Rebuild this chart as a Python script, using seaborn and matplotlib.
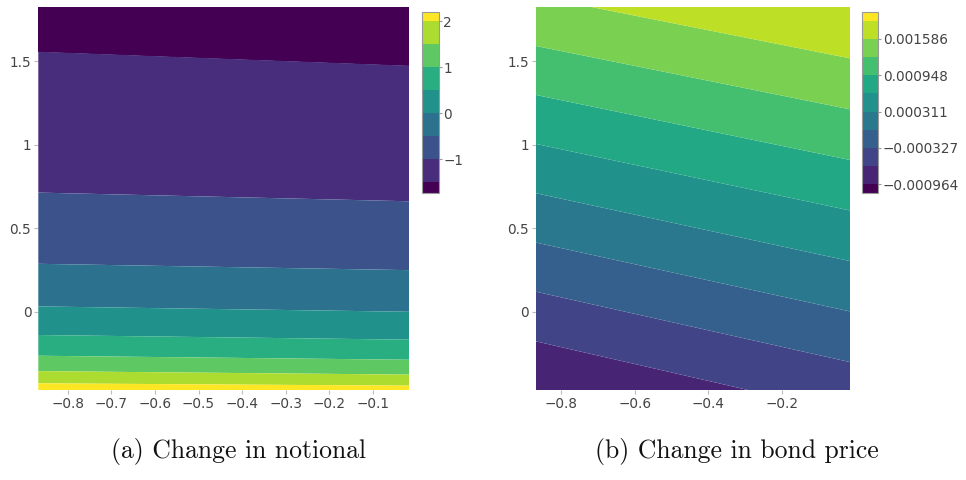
import numpy as np
import matplotlib
matplotlib.use("Agg")
import matplotlib.pyplot as plt
import seaborn as sns

# -------- data --------

# both panels share the same view
x_range = [-0.868, -0.016]
y_range = [-0.468, 1.825]

# (a) change in notional: contour levels and where each one
# crosses the left / right edge of the panel
notional_levels = [-1.5, -1.0, -0.5, 0.0, 0.5, 1.0, 1.5, 2.0]
notional_y_left = [1.556, 0.713, 0.287, 0.032, -0.139, -0.263, -0.355, -0.428]
notional_y_right = [1.472, 0.661, 0.249, 0.000, -0.167, -0.287, -0.376, -0.442]
notional_z_bottom = 2.2
notional_z_top = -1.73
notional_ticks = [-1, 0, 1, 2]
notional_tick_labels = ["\u22121", "0", "1", "2"]

# (b) change in bond price
price_levels = [-0.000964, -0.000645, -0.000327, -0.000008, 0.000311,
                0.000630, 0.000948, 0.001267, 0.001586, 0.001905]
# crossings of the visible levels (-0.000645 ... 0.001586)
price_cross_levels = [-0.000645, -0.000327, -0.000008, 0.000311,
                      0.000630, 0.000948, 0.001267, 0.001586]
price_y_left = [-0.177, 0.120, 0.414, 0.709, 1.004, 1.297, 1.590, 1.889]
price_y_right = [-0.608, -0.301, 0.002, 0.303, 0.606, 0.908, 1.211, 1.516]
price_z_bottom = -0.00112
price_z_top = 0.00206
price_ticks = [-0.000964, -0.000327, 0.000311, 0.000948, 0.001586]
price_tick_labels = ["\u22120.000964", "\u22120.000327", "0.000311",
                     "0.000948", "0.001586"]

notional_xticks = [-0.8, -0.7, -0.6, -0.5, -0.4, -0.3, -0.2, -0.1]
notional_xtick_labels = ["\u22120.8", "\u22120.7", "\u22120.6", "\u22120.5",
                         "\u22120.4", "\u22120.3", "\u22120.2", "\u22120.1"]
price_xticks = [-0.8, -0.6, -0.4, -0.2]
price_xtick_labels = ["\u22120.8", "\u22120.6", "\u22120.4", "\u22120.2"]
yticks = [0, 0.5, 1, 1.5]
ytick_labels = ["0", "0.5", "1", "1.5"]

captions = ["(a) Change in notional", "(b) Change in bond price"]


# -------- helpers --------

def edge_grid(levels, y_left, y_right, z_bottom, z_top):
    # one row per level crossing, padded far outside the view
    ys = np.column_stack([y_left, y_right])
    zs = np.asarray(levels, dtype=float)
    order = np.argsort(ys[:, 0])
    ys, zs = ys[order], zs[order]
    Y = np.vstack([[-5.0, -5.0], ys, [5.0, 5.0]])
    Z = np.r_[z_bottom, zs, z_top]
    Z = np.repeat(Z[:, None], 2, axis=1)
    X = np.tile(x_range, (len(Y), 1))
    return X, Y, Z


def draw_panel(ax, cax, X, Y, Z, levels, zlim, ticks, tick_labels,
               xticks, xtick_labels):
    bounds = [min(zlim)] + list(levels) + [max(zlim)]
    colors = cmap(np.linspace(0, 1, len(bounds) - 1))
    cs = ax.contourf(X, Y, Z, levels=bounds, colors=colors, antialiased=True)

    ax.set_xlim(x_range)
    ax.set_ylim(y_range)
    ax.set_xticks(xticks)
    ax.set_xticklabels(xtick_labels)
    ax.set_yticks(yticks)
    ax.set_yticklabels(ytick_labels)
    for s in ax.spines.values():
        s.set_visible(False)
    ax.tick_params(bottom=True, left=True, length=3, width=0.8,
                   color="#bbbbbb", labelcolor="#444444",
                   labelsize=9.8, pad=2)

    cbar = fig.colorbar(cs, cax=cax, spacing="proportional", ticks=ticks)
    cbar.ax.set_yticklabels(tick_labels)
    cbar.outline.set_edgecolor("#999999")
    cbar.outline.set_linewidth(0.8)
    cbar.ax.tick_params(right=True, length=2, width=0.8, color="#999999",
                        labelcolor="#444444", labelsize=9.8, pad=1)
    return cs


# -------- plot --------

sns.set_theme(style="white")
plt.rcParams["font.family"] = ["DejaVu Sans"]

cmap = sns.color_palette("viridis", as_cmap=True)

fig = plt.figure(figsize=(9.66, 4.8), dpi=100)

ax_a = fig.add_axes([38.3 / 966, 90 / 480, 371 / 966, 383.3 / 480])
cax_a = fig.add_axes([422 / 966, 287 / 480, 17 / 966, 181 / 480])
ax_b = fig.add_axes([536 / 966, 90 / 480, 314 / 966, 383.3 / 480])
cax_b = fig.add_axes([862 / 966, 287 / 480, 16.5 / 966, 181 / 480])

Xa, Ya, Za = edge_grid(notional_levels, notional_y_left, notional_y_right,
                       notional_z_bottom, notional_z_top)
draw_panel(ax_a, cax_a, Xa, Ya, Za, notional_levels,
           [notional_z_bottom, notional_z_top], notional_ticks,
           notional_tick_labels, notional_xticks, notional_xtick_labels)

Xb, Yb, Zb = edge_grid(price_cross_levels, price_y_left, price_y_right,
                       price_z_bottom, price_z_top)
draw_panel(ax_b, cax_b, Xb, Yb, Zb, price_levels,
           [price_z_bottom, price_z_top], price_ticks,
           price_tick_labels, price_xticks, price_xtick_labels)

# captions underneath, in the LaTeX look
fig.text(238.5 / 966, 22 / 480, captions[0], ha="center", va="baseline",
         family="cmr10", size=18.5, color="#111111")
fig.text(737 / 966, 22 / 480, captions[1], ha="center", va="baseline",
         family="cmr10", size=18.5, color="#111111")

fig.savefig("out.png", dpi=100)
